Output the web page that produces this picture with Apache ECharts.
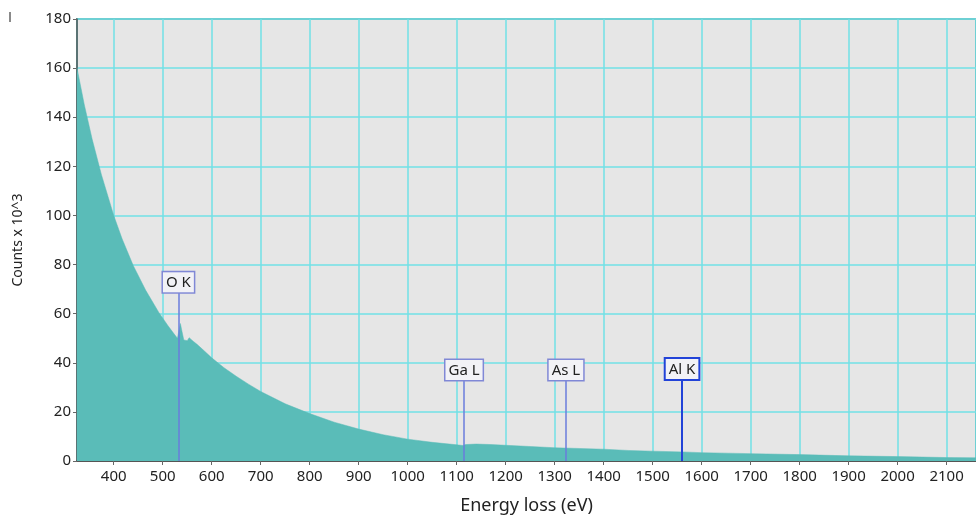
<!DOCTYPE html>
<html>
<head>
<meta charset="utf-8">
<script src="https://cdn.jsdelivr.net/npm/echarts@6/dist/echarts.min.js"></script>
<style>
  html, body { margin: 0; padding: 0; background: #ffffff; }
  #chart { width: 976px; height: 517px; }
</style>
</head>
<body>
<div id="chart"></div>
<script>
// Energy loss (eV)
const energy = [325, 340, 356, 375, 400, 417, 440, 465, 492, 510, 523, 530,
  533, 536, 539, 543, 550, 554, 558, 562, 570, 585, 600, 625, 650, 675, 700, 750, 800, 850,
  900, 950, 1000, 1050, 1100, 1113, 1118, 1140, 1170, 1200, 1250, 1300, 1350, 1400, 1450, 1500,
  1560, 1600, 1700, 1800, 1900, 2000, 2050, 2100, 2160];
// Counts x 10^3
const counts = [160, 145, 131, 116.5, 100, 90.5, 79.5, 69.6, 60.5, 55.3, 51.8, 50,
  53, 56, 53, 49.3, 49, 50.2, 50, 48.8, 47.5, 44.8, 42, 38, 34.5, 31.3, 28.3, 23.3, 19.3, 15.8,
  13, 10.7, 8.9, 7.6, 6.6, 6.3, 6.7, 6.9, 6.7, 6.4, 5.9, 5.4, 5.1, 4.8, 4.3, 4.0,
  3.7, 3.4, 3.0, 2.6, 2.1, 1.8, 1.6, 1.4, 1.3];

// Edge markers
const edgeNames = ['O K', 'Ga L', 'As L', 'Al K'];
const edgeEnergies = [532, 1115, 1323, 1560];
const edgeLabelLevels = [68.7, 33, 33, 33.4];
const edgeHighlighted = [false, false, false, true];

const seriesData = energy.map((e, i) => [e, counts[i]]);

const markLineData = edgeNames.map((name, i) => {
  const hl = edgeHighlighted[i];
  return [
    {
      coord: [edgeEnergies[i], edgeLabelLevels[i]],
      name: name,
      lineStyle: { color: hl ? '#2243d8' : '#6a7ddc', width: hl ? 2 : 1.5, type: 'solid' },
      label: {
        show: true,
        position: 'start',
        distance: 0,
        formatter: name,
        color: '#222',
        fontFamily: 'Noto Sans',
        fontSize: 15,
        backgroundColor: '#f2f2f6',
        borderColor: hl ? '#2243d8' : '#8088d6',
        borderWidth: hl ? 2 : 1.5,
        padding: [3, 3, 2, 3]
      }
    },
    { coord: [edgeEnergies[i], 0] }
  ];
});

const chart = echarts.init(document.getElementById('chart'), null, { renderer: 'canvas' });
chart.setOption({
  animation: false,
  backgroundColor: '#ffffff',
  grid: {
    left: 77, top: 19, right: 0, bottom: 56,
    outerBoundsMode: 'none',
    containLabel: false,
    show: true,
    backgroundColor: '#e6e6e6',
    borderColor: '#6a9e9e',
    borderWidth: 2
  },
  graphic: [{
    type: 'rect', left: 9, top: 12, shape: { width: 2, height: 10 },
    style: { fill: '#8a8a8a' }
  }],
  xAxis: {
    type: 'value',
    min: 325,
    max: 2160,
    minInterval: 100,
    maxInterval: 100,
    splitNumber: 18,
    name: 'Energy loss (eV)',
    nameLocation: 'middle',
    nameGap: 36,
    nameTextStyle: { fontFamily: 'Noto Sans', fontSize: 18, color: '#222' },
    axisLine: { show: true, lineStyle: { color: '#555', width: 2 } },
    axisTick: { show: true, length: 4, lineStyle: { color: '#666' } },
    axisLabel: {
      fontFamily: 'Noto Sans', fontSize: 15, color: '#222', margin: 8,
      showMinLabel: false, showMaxLabel: false,
      formatter: v => String(v)
    },
    splitLine: { show: true, lineStyle: { color: '#70e0e6', width: 1.5 } }
  },
  yAxis: {
    type: 'value',
    min: 0,
    max: 180,
    interval: 20,
    name: 'Counts x 10^3',
    nameLocation: 'middle',
    nameGap: 52,
    nameTextStyle: { fontFamily: 'Noto Sans', fontSize: 14, color: '#222' },
    axisLine: { show: true, lineStyle: { color: '#555', width: 1.5 } },
    axisTick: { show: true, length: 4, lineStyle: { color: '#666' } },
    axisLabel: { fontFamily: 'Noto Sans', fontSize: 15, color: '#222', margin: 6 },
    splitLine: { show: true, lineStyle: { color: '#70e0e6', width: 1.5 } }
  },
  series: [{
    type: 'line',
    data: seriesData,
    showSymbol: false,
    symbol: 'none',
    lineStyle: { width: 0.5, color: '#5abcb8' },
    areaStyle: { color: '#5abcb8', opacity: 1 },
    z: 2,
    markLine: {
      silent: true,
      symbol: ['none', 'none'],
      animation: false,
      data: markLineData
    }
  }]
});
</script>
</body>
</html>
